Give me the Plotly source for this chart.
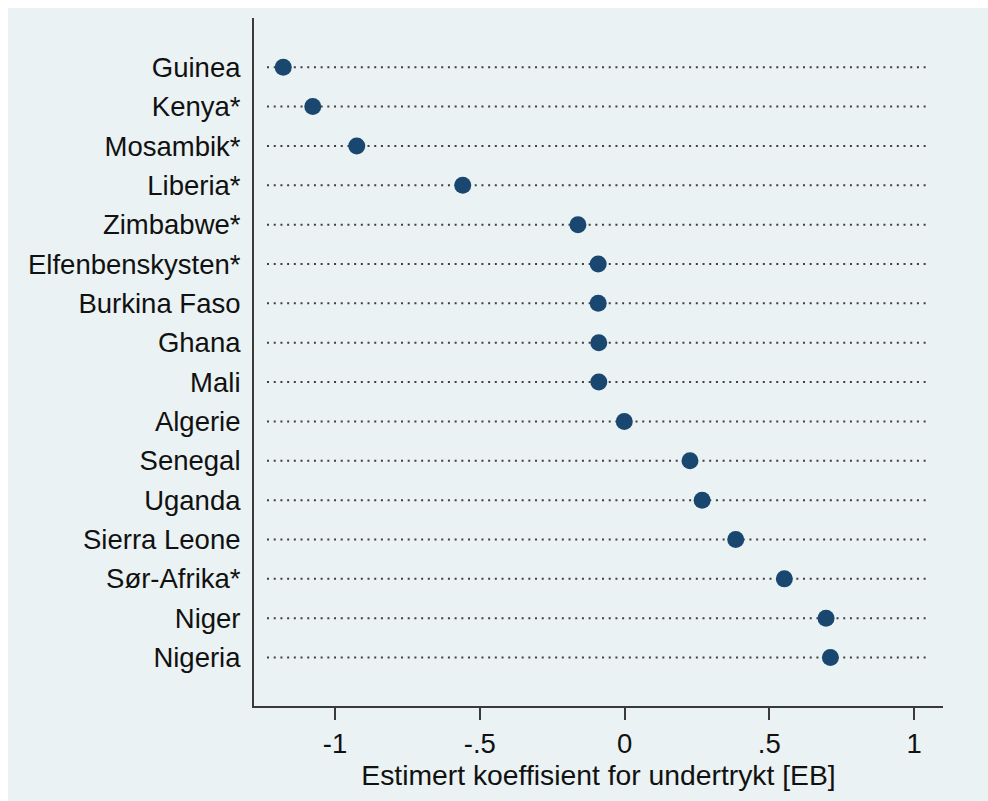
import plotly.graph_objects as go

# Country estimates (coefficient for "undertrykt", EB)
countries = [
    "Guinea", "Kenya*", "Mosambik*", "Liberia*", "Zimbabwe*", "Elfenbenskysten*",
    "Burkina Faso", "Ghana", "Mali", "Algerie", "Senegal", "Uganda",
    "Sierra Leone", "Sør-Afrika*", "Niger", "Nigeria",
]
coefficients = [
    -1.179, -1.077, -0.925, -0.559, -0.161, -0.091,
    -0.091, -0.089, -0.089, -0.001, 0.226, 0.268,
    0.384, 0.552, 0.696, 0.711,
]
x_tick_values = [-1, -0.5, 0, 0.5, 1]
x_tick_labels = ["-1", "-.5", "0", ".5", "1"]
x_title = "Estimert koeffisient for undertrykt [EB]"

BG = "#eaf2f3"
NAVY = "#1a476f"
AXIS = "#3a3a3a"
FONT = "Liberation Sans, Arial, sans-serif"

# horizontal extent of the dotted guide lines (data units)
LINE_START, LINE_END = -1.235, 1.05

W, H = 988, 801
M_L, M_R, M_T, M_B = 254, 45, 18, 95

fig = go.Figure()

# dotted guide line behind each country's marker
gx, gy = [], []
for c in countries:
    gx += [LINE_START, LINE_END, None]
    gy += [c, c, None]
fig.add_trace(go.Scatter(
    x=gx, y=gy, mode="lines",
    line=dict(color="#404040", width=2, dash="2px,4.7px"),
    hoverinfo="skip", showlegend=False,
))

fig.add_trace(go.Scatter(
    x=coefficients, y=countries, mode="markers",
    marker=dict(color=NAVY, size=17, line=dict(width=0)),
    showlegend=False,
))

n = len(countries)
plot_w = W - M_L - M_R
plot_h = H - M_T - M_B

# thin white frame on the top and left edges of the graph region
fig.add_shape(type="rect", xref="paper", yref="paper",
              x0=-M_L / plot_w, x1=(8 - M_L) / plot_w,
              y0=-M_B / plot_h, y1=(H - M_B) / plot_h,
              fillcolor="white", line_width=0, layer="below")
fig.add_shape(type="rect", xref="paper", yref="paper",
              x0=-M_L / plot_w, x1=(W - M_L) / plot_w,
              y0=(H - M_B - 8) / plot_h, y1=(H - M_B) / plot_h,
              fillcolor="white", line_width=0, layer="below")

fig.update_layout(
    width=W, height=H,
    margin=dict(l=M_L, r=M_R, t=M_T, b=M_B, pad=0),
    paper_bgcolor=BG, plot_bgcolor=BG,
    font=dict(family=FONT, size=27.5, color="#111111"),
    xaxis=dict(
        range=[-1.28, 1.10],
        tickvals=x_tick_values, ticktext=x_tick_labels,
        ticks="outside", ticklen=12, tickwidth=2, tickcolor=AXIS,
        showline=True, linecolor=AXIS, linewidth=2,
        showgrid=False, zeroline=False,
        title=dict(text=x_title, standoff=0, font=dict(size=28.3)),
        tickfont=dict(size=27.5),
    ),
    yaxis=dict(
        type="category",
        categoryorder="array", categoryarray=countries,
        range=[n - 1 + 1.23, -1.25],
        ticks="", showline=True, linecolor=AXIS, linewidth=2,
        showgrid=False, zeroline=False,
        ticklabelstandoff=6,
        tickfont=dict(size=27.5),
    ),
)

fig.write_html("out.html")
